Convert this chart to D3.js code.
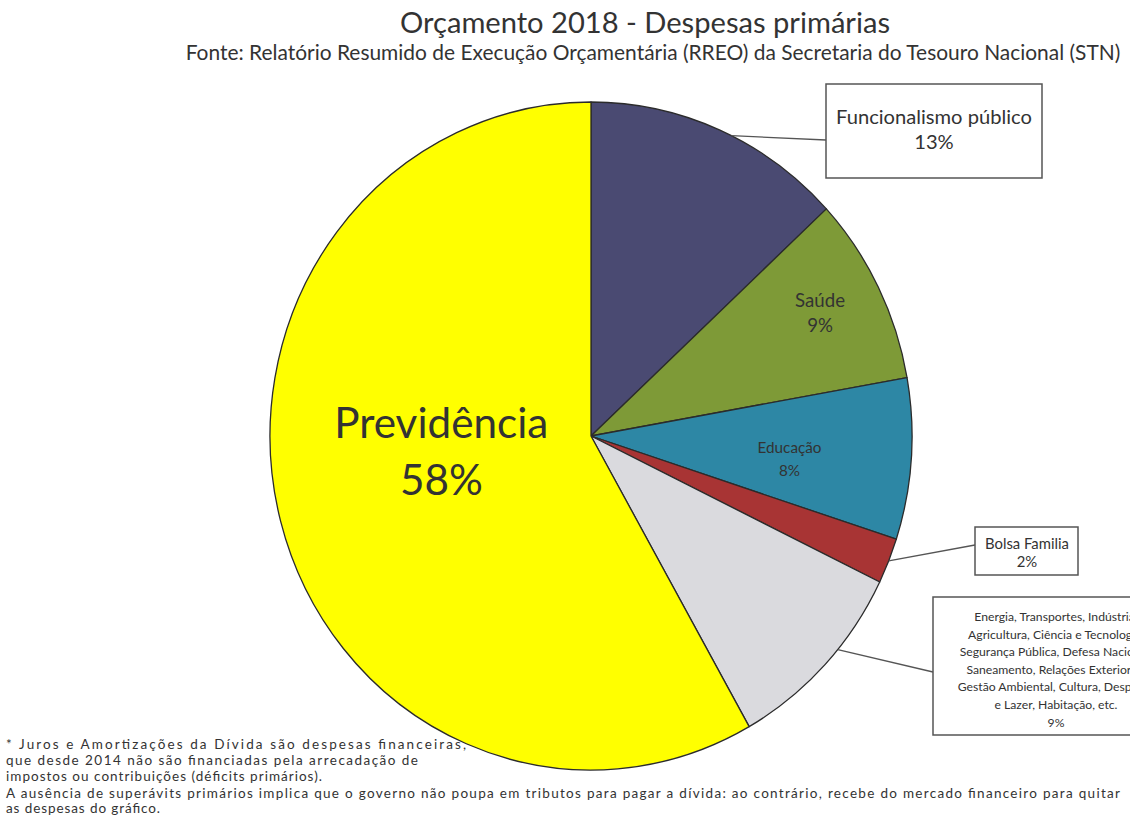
<!DOCTYPE html>
<html>
<head>
<meta charset="utf-8">
<script src="https://cdn.jsdelivr.net/npm/d3@7"></script>
<style>
  body { margin: 0; background: #fff; }
  svg { display: block; font-family: Lato, "Open Sans", sans-serif; }
</style>
</head>
<body>
<div id="chart"></div>
<script>
// slices, clockwise from 12 o'clock
const categories = ["Funcionalismo público", "Saúde", "Educação", "Bolsa Familia", "Outros", "Previdência"];
const values = [13.1, 9.1, 7.8, 2.2, 9.6, 58.2];
const pctLabels = ["13%", "9%", "8%", "2%", "9%", "58%"];
const othersLines = [
  "Energia, Transportes, Indústria,",
  "Agricultura, Ciência e Tecnologia,",
  "Segurança Pública, Defesa Nacional,",
  "Saneamento, Relações Exteriores,",
  "Gestão Ambiental, Cultura, Desporto",
  "e Lazer, Habitação, etc."
];
const footLines = [
  "* Juros e Amortizações da Dívida são despesas financeiras,",
  "que desde 2014 não são financiadas pela arrecadação de",
  "impostos ou contribuições  (déficits primários).",
  "A ausência de superávits primários implica que o governo não poupa em  tributos para pagar a dívida: ao contrário, recebe do mercado financeiro para quitar",
  "as despesas do gráfico."
];

const width = 1130;
const height = 816;
const colors = ["#4a4a72", "#7e9a37", "#2d87a5", "#a83434", "#dadade", "#ffff00"];
const textColor = "#333";

const svg = d3.select("#chart").append("svg")
  .attr("width", width)
  .attr("height", height);

// fit a text node's font size to a target width
function fit(sel, w) {
  const fs = parseFloat(sel.attr("font-size"));
  const l = sel.node().getComputedTextLength();
  sel.attr("font-size", (fs * w / l).toFixed(2));
  return sel;
}

fit(svg.append("text")
  .attr("x", 645).attr("y", 33)
  .attr("text-anchor", "middle")
  .attr("font-size", 24)
  .attr("fill", textColor)
  .text("Orçamento 2018 - Despesas primárias"), 490);

fit(svg.append("text")
  .attr("x", 653).attr("y", 60)
  .attr("text-anchor", "middle")
  .attr("font-size", 14)
  .attr("fill", textColor)
  .text("Fonte: Relatório Resumido de Execução Orçamentária (RREO) da Secretaria do Tesouro Nacional (STN)"), 935);

// the source picture is a little narrower than tall
const cx = 591, cy = 436, rx = 321, ry = 334;

const pie = d3.pie().sort(null).value(d => d);
const arcs = pie(values);
const arc = d3.arc().innerRadius(0).outerRadius(ry);
const onEdge = (a, f) => [cx + Math.sin(a) * rx * f, cy - Math.cos(a) * ry * f];

svg.append("g")
  .attr("transform", `translate(${cx},${cy}) scale(${rx / ry},1)`)
  .selectAll("path")
  .data(arcs)
  .enter()
  .append("path")
  .attr("d", arc)
  .attr("fill", (d, i) => colors[i])
  .attr("stroke", "#2b2b2b")
  .attr("stroke-width", 1.3)
  .attr("vector-effect", "non-scaling-stroke")
  .attr("stroke-linejoin", "round");

// labels inside slices
const inside = [
  { i: 1, r: 0.79, size: 13, gap: 25, dx: 2, dy: -5, w: 50 },
  { i: 2, r: 0.62, size: 14, gap: 23, dx: 0, dy: 9, w: 64 },
  { i: 5, r: 0.45, size: 40, gap: 57, dx: -10, dy: -23, w: 214 }
];
inside.forEach(o => {
  const a = arcs[o.i];
  const [x0, y0] = onEdge((a.startAngle + a.endAngle) / 2, o.r);
  const x = x0 + o.dx, y = y0 + o.dy;
  const t = svg.append("text")
    .attr("text-anchor", "middle")
    .attr("font-size", o.size)
    .attr("fill", textColor);
  const first = t.append("tspan").attr("x", x).text(categories[o.i]);
  fit(t, o.w);
  const fs = parseFloat(t.attr("font-size"));
  first.attr("y", y - o.gap / 2 + fs * 0.35);
  t.append("tspan").attr("x", x).attr("y", y + o.gap / 2 + fs * 0.35).text(pctLabels[o.i]);
});

// callout boxes
const boxes = [
  { i: 0, at: 0.55, x: 826, y: 84, w: 216, h: 94, size: 17, fitW: 196, lines: [categories[0], pctLabels[0]], first: 124, gap: 25, cxText: 934, anchorY: 140 },
  { i: 3, at: 0.5, x: 975, y: 527, w: 103, h: 48, size: 11.5, fitW: 84, lines: [categories[3], pctLabels[3]], first: 549, gap: 18, cxText: 1027, anchorY: 545 },
  { i: 4, at: 0.4, x: 933, y: 597, w: 230, h: 138, size: 12.2, fitW: 0, lines: othersLines.concat([pctLabels[4]]), first: 621, gap: 17.6, cxText: 1056, anchorY: 672 }
];
boxes.forEach(b => {
  const a = arcs[b.i];
  const [px, py] = onEdge(a.startAngle + (a.endAngle - a.startAngle) * b.at, 1);
  svg.append("line")
    .attr("x1", px).attr("y1", py)
    .attr("x2", b.x).attr("y2", b.anchorY)
    .attr("stroke", "#555")
    .attr("stroke-width", 1.3);
  svg.append("rect")
    .attr("x", b.x).attr("y", b.y)
    .attr("width", b.w).attr("height", b.h)
    .attr("fill", "#fff")
    .attr("stroke", "#555")
    .attr("stroke-width", 1.5);
  const t = svg.append("text")
    .attr("text-anchor", "middle")
    .attr("font-size", b.size)
    .attr("fill", textColor);
  b.lines.forEach((s, k) => {
    t.append("tspan").attr("x", b.cxText).attr("y", b.first + k * b.gap).text(s);
  });
  if (b.fitW) {
    const probe = svg.append("text").attr("font-size", b.size).text(b.lines[0]);
    fit(probe, b.fitW);
    t.attr("font-size", probe.attr("font-size"));
    probe.remove();
  }
});

// footnotes, stretched to the widths of the source lines
const footY = [749, 765, 781, 798, 813];
const footW = [460, 412, 316, 1114, 154];
svg.append("g")
  .attr("fill", textColor)
  .selectAll("text")
  .data(footLines)
  .enter()
  .append("text")
  .attr("x", 6)
  .attr("y", (d, i) => footY[i])
  .attr("font-size", 13.5)
  .attr("textLength", (d, i) => footW[i])
  .attr("lengthAdjust", "spacing")
  .text(d => d);
</script>
</body>
</html>
